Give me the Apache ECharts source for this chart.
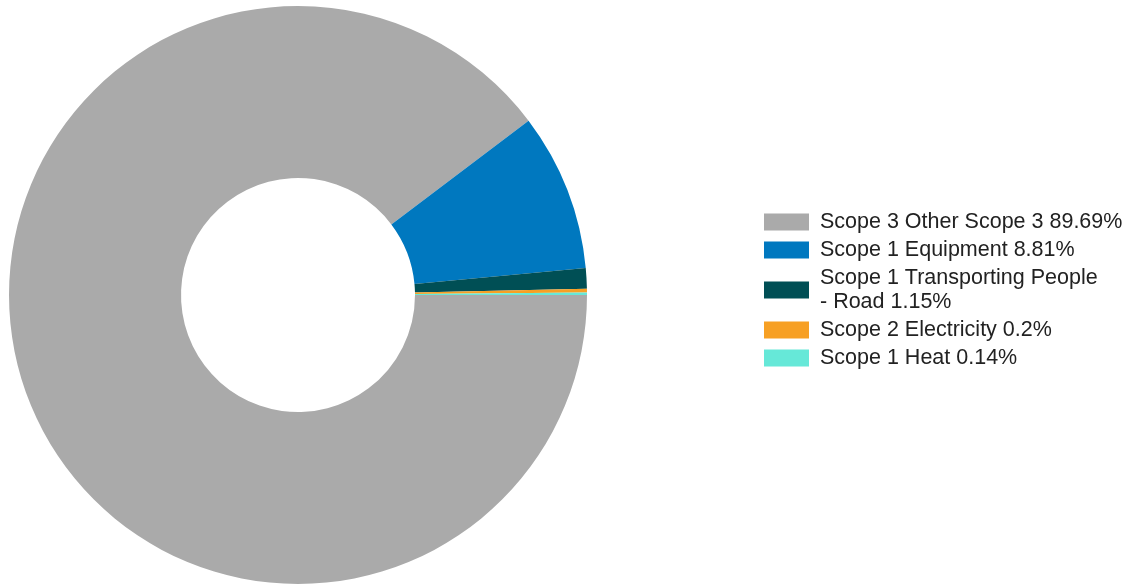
<!DOCTYPE html>
<html>
<head>
<meta charset="utf-8">
<script src="https://cdn.jsdelivr.net/npm/echarts@6/dist/echarts.min.js"></script>
<style>
    html, body { margin: 0; padding: 0; background: #fff; }
    #chart { width: 1142px; height: 585px; }
</style>
</head>
<body>
<div id="chart"></div>
<script>
    // emission sources, share of total (%)
    const categories = [
        'Scope 3 Other Scope 3',
        'Scope 1 Equipment',
        'Scope 1 Transporting People - Road',
        'Scope 2 Electricity',
        'Scope 1 Heat'
    ]
    const shares = [89.69, 8.81, 1.15, 0.2, 0.14]
    const colors = ['#AAAAAA', '#0078BF', '#004F55', '#F7A024', '#66E8D8']

    const myChart = echarts.init(document.getElementById('chart'))

    const pieData = categories.map((name, i) => ({
        name: name,
        value: shares[i],
        itemStyle: { color: colors[i] }
    }))

    myChart.setOption({
        animation: false,
        legend: {
            orient: 'vertical',
            left: 759,
            top: 205,
            itemWidth: 45,
            itemHeight: 17,
            itemGap: 4,
            icon: 'rect',
            selectedMode: false,
            data: categories,
            formatter: (name) => {
                let i = categories.indexOf(name)
                return (name + ' ' + shares[i] + '%').replace(' - ', '\n- ')
            },
            textStyle: {
                fontFamily: 'Liberation Sans, Arial, sans-serif',
                fontSize: 21.5,
                lineHeight: 24,
                color: '#222222',
                padding: [0, 0, 0, 6]
            }
        },
        series: [{
            type: 'pie',
            center: [298, 295],
            radius: [117, 289],
            startAngle: 0,
            clockwise: true,
            label: { show: false },
            labelLine: { show: false },
            emphasis: { disabled: true },
            itemStyle: { borderWidth: 0 },
            data: pieData
        }]
    })
</script>
</body>
</html>
